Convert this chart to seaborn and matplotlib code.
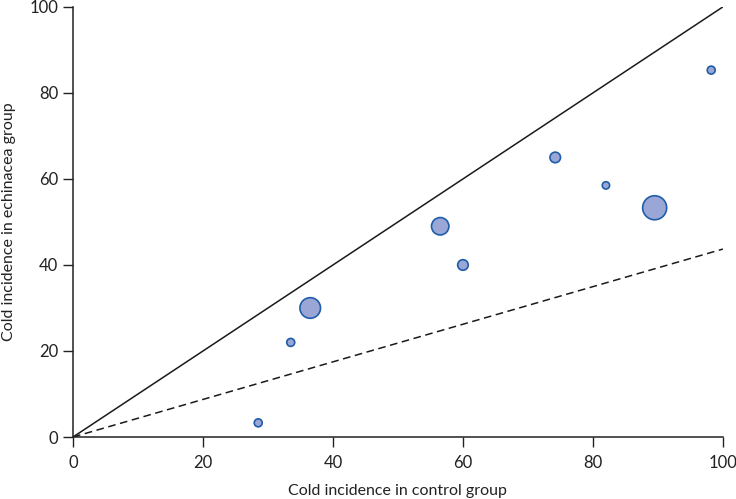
import matplotlib
matplotlib.use("Agg")
import numpy as np
import pandas as pd
import matplotlib.pyplot as plt
import seaborn as sns

# Datos (incidencia de resfriado, %)
control_incidence = [28.5, 33.5, 36.5, 56.5, 60.0, 74.2, 82.0, 89.5, 98.2]
echinacea_incidence = [3.3, 22.0, 30.0, 49.0, 40.0, 65.0, 58.5, 53.3, 85.3]
# peso relativo de cada estudio (area del circulo)
study_weight = [33, 33, 220, 157, 58, 58, 28, 299, 33]

# lineas de referencia: igualdad y reduccion media
ref_x = [0, 100]
equal_y = [0, 100]
reduction_y = [0, 43.7]

df = pd.DataFrame({"control": control_incidence,
                   "echinacea": echinacea_incidence,
                   "weight": study_weight})

sns.set_style("ticks")
plt.rcParams["font.family"] = ["Lato", "DejaVu Sans"]

fig = plt.figure(figsize=(7.36, 4.99), dpi=100)
ax = fig.add_axes([0.0992, 0.1242, 0.883, 0.862])

ax.plot(ref_x, equal_y, color="#1a1a1a", lw=1.1, zorder=1)
ax.plot(ref_x, reduction_y, color="#1a1a1a", lw=1.1, ls=(0, (5, 3)), zorder=1)

sns.scatterplot(data=df, x="control", y="echinacea", size="weight",
                sizes=(min(study_weight), max(study_weight)),
                color="#9aa6d6", edgecolor="#1f5da8", linewidth=1.2,
                legend=False, ax=ax, zorder=3, clip_on=False)

ax.set_xlim(0, 100)
ax.set_ylim(0, 100)
ax.set_xticks([0, 20, 40, 60, 80, 100])
ax.set_yticks([0, 20, 40, 60, 80, 100])
ax.tick_params(direction="out", length=7, width=1, color="#222222",
               labelsize=12, labelcolor="#222222")
ax.tick_params(axis="x", pad=6)
ax.tick_params(axis="y", pad=3.5)
ax.set_xlabel("Cold incidence in control group", fontsize=11.5,
              color="#222222", labelpad=9)
ax.set_ylabel("Cold incidence in echinacea group", fontsize=11.5,
              color="#222222", labelpad=10)
sns.despine(ax=ax)
for s in ["left", "bottom"]:
    ax.spines[s].set_color("#222222")
    ax.spines[s].set_linewidth(1.1)

fig.savefig("out.png", dpi=100)
